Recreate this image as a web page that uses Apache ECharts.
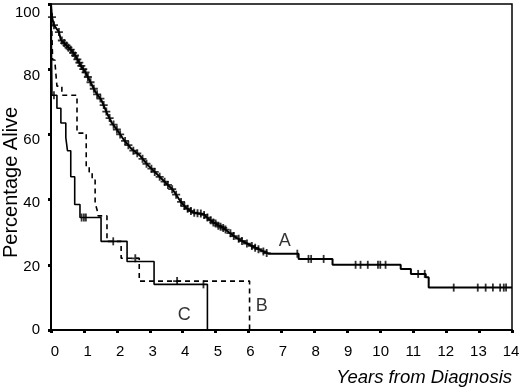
<!DOCTYPE html>
<html>
<head>
<meta charset="utf-8">
<script src="https://cdn.jsdelivr.net/npm/echarts@6/dist/echarts.min.js"></script>
<style>
html,body{margin:0;padding:0;background:#fff;}
#chart{width:520px;height:388px;}
</style>
</head>
<body>
<div id="chart"></div>
<script>
// Tick labels
var xTicks = [0,1,2,3,4,5,6,7,8,9,10,11,12,13,14];
var yTicks = [0,20,40,60,80,100];

// Curve A (years, % alive)
var aTime = [0,0.03,0.09,0.24,0.3,0.45,0.6,0.75,0.91,1.05,1.2,1.35,1.53,1.7,1.85,2.0,2.2,2.45,2.7,2.95,3.2,3.45,3.7,3.93,4.1,4.32,4.63,4.8,4.93,5.23,5.4,5.6,5.8,6.06,6.3,6.6,7.52,7.52,8.55,8.55,10.62,10.62,10.93,10.93,11.38,11.38,11.47,11.47,14];
var aSurv = [100,96,93.5,91.4,89,87.5,86,84,81,79,76,73,70.5,66.5,63.5,61.5,58.5,55.5,53.5,50.5,48,45.5,43,39.5,37.5,36,35.5,34,33,31.3,30,28.5,27.3,26,24.8,23.4,23.4,21.8,21.8,20,20,18.7,18.7,17.2,17.2,16.2,16.2,13,13];
var aCensorDense = [[0.03,96],[0.09,93.5],[0.24,91.4],[0.33,88.8],[0.4,88],[0.47,87.3],[0.53,86.6],[0.6,86],[0.67,85],[0.73,84.2],[0.8,83],[0.86,82],[0.92,81],[0.98,80],[1.05,79],[1.12,77.6],[1.2,76],[1.3,74],[1.4,72.3],[1.5,71],[1.6,69],[1.68,67],[1.78,65],[1.9,63],[2.0,61.5],[2.1,60],[2.25,58],[2.35,56.7],[2.5,55],[2.62,54.2],[2.78,52.5],[2.9,51],[3.05,49.5],[3.15,48.5],[3.3,47],[3.45,45.5],[3.55,44.5],[3.68,43.2],[3.8,41.5],[3.95,39.3],[4.05,38],[4.15,37.2],[4.25,36.5],[4.35,36],[4.45,35.8],[4.55,35.7],[4.65,35.3],[4.75,34.5],[4.85,33.7],[4.93,33],[5.0,32.7],[5.08,32],[5.15,31.7],[5.23,31.3],[5.3,30.8],[5.45,29.7],[5.55,28.8],[5.7,28],[5.8,27.3],[5.95,26.5],[6.1,25.8],[6.2,25.2],[6.3,24.8],[6.45,24.1],[6.55,23.6]];
var aCensorTail = [[7.48,23.4],[7.82,21.8],[7.9,21.8],[8.28,21.8],[9.25,20],[9.4,20],[9.62,20],[9.93,20],[10.0,20],[10.16,20],[11.15,17.2],[11.35,17.2],[12.23,13],[12.96,13],[13.2,13],[13.42,13],[13.64,13],[13.75,13],[13.82,13]];

// Curve B (dashed)
var bTime = [0,0.05,0.05,0.12,0.12,0.18,0.18,0.33,0.33,0.79,0.79,1.07,1.07,1.16,1.16,1.25,1.25,1.34,1.34,1.4,1.4,1.43,1.43,1.7,1.7,2.13,2.13,2.68,2.68,6.03,6.03];
var bSurv = [100,100,82.8,82.8,82,82,74.8,74.8,72,72,60.4,60.4,50,50,48.5,48.5,46,46,39,39,36.8,36.8,35,35,27.2,27.2,22,22,15,15,0];
var bCensor = [[2.56,22],[3.83,15]];

// Curve C (solid)
var cTime = [0,0.03,0.03,0.18,0.18,0.3,0.3,0.45,0.45,0.5,0.5,0.6,0.6,0.72,0.72,0.88,0.88,1.52,1.52,2.31,2.31,3.13,3.13,4.75,4.75];
var cSurv = [100,100,72,72,68,68,63.5,63.5,59,59,55,55,47,47,38.5,38.5,34.5,34.5,27.2,27.2,21,21,14,14,0];
var cCensor = [[0.09,72],[0.93,34.5],[1.0,34.5],[1.06,34.5],[1.89,27.2],[4.63,14]];

var curveNames = ['A','B','C'];

function zip(t, s){ return t.map(function(v,i){ return [v, s[i]]; }); }

var plus = 'path://M3,0h1.8v8h-1.8zM0,3.1h7.8v1.8h-7.8z';
var FONT = '"Liberation Sans", Arial, sans-serif';

var chart = echarts.init(document.getElementById('chart'), null, {renderer:'canvas'});
var option = {
  animation: false,
  backgroundColor: '#fff',
  grid: {left: 51, right: 8, top: 4, bottom: 58, show: true, borderColor: '#000', borderWidth: 1.5, outerBoundsMode: 'none'},
  xAxis: [
    {type:'value', min:0, max:14, interval:1,
     axisLine:{show:true, onZero:false, lineStyle:{color:'#000', width:2}},
     axisTick:{show:true, length:3, lineStyle:{color:'#000', width:3}},
     axisLabel:{show:false}, splitLine:{show:false}},
    {type:'value', position:'bottom', min:-0.123, max:14.031,
     axisLine:{show:false}, axisTick:{show:false}, splitLine:{show:false},
     axisLabel:{show:true, customValues:xTicks, margin:14, color:'#000', fontSize:15, fontFamily:FONT}}
  ],
  yAxis: [
    {type:'value', min:0, max:100, interval:20,
     axisLine:{show:true, onZero:false, lineStyle:{color:'#000', width:2}},
     axisTick:{show:true, length:3, lineStyle:{color:'#000', width:3}},
     axisLabel:{show:false}, splitLine:{show:false}},
    {type:'value', position:'left', min:0, max:102.8,
     axisLine:{show:false}, axisTick:{show:false}, splitLine:{show:false},
     axisLabel:{show:true, customValues:yTicks, margin:11, color:'#000', fontSize:15, fontFamily:FONT}}
  ],
  graphic: [
    {type:'text', x: 512, y: 378, style:{text:'Years from Diagnosis', font:'italic 18.5px ' + FONT, fill:'#000', textAlign:'right', textVerticalAlign:'middle'}},
    {type:'text', x: 1, y: 258, rotation: Math.PI/2, style:{text:'Percentage Alive', font:'20px ' + FONT, fill:'#000', textAlign:'left', textVerticalAlign:'top'}}
  ],
  series: [
    {type:'line', name:'A', data: zip(aTime, aSurv), showSymbol:false, symbol:'none', lineStyle:{color:'#000', width:2}, z:3},
    {type:'scatter', data: aCensorDense, symbol: plus, symbolSize:[8,8], itemStyle:{color:'#000'}, z:4},
    {type:'scatter', data: aCensorTail, symbol:'rect', symbolSize:[1.8,8], itemStyle:{color:'#000'}, z:4},
    {type:'line', name:'B', data: zip(bTime, bSurv), showSymbol:false, symbol:'none', lineStyle:{color:'#000', width:1.6, type:[5,4]}, z:3},
    {type:'scatter', data: bCensor, symbol: plus, symbolSize:[8,8], itemStyle:{color:'#000'}, z:4},
    {type:'line', name:'C', data: zip(cTime, cSurv), showSymbol:false, symbol:'none', lineStyle:{color:'#000', width:1.6}, z:3},
    {type:'scatter', data: cCensor, symbol:'rect', symbolSize:[1.8,8], itemStyle:{color:'#000'}, z:4},
    {type:'scatter', symbol:'circle', symbolSize:1, silent:true, itemStyle:{color:'rgba(0,0,0,0)'},
     data: [[7.1,27.3],[6.4,7.5],[4.05,4.5]].map(function(p,i){ return {value:p, label:{formatter: curveNames[i]}}; }),
     label:{show:true, position:'inside', color:'#000', fontSize:18, fontFamily:FONT}, z:5}
  ]
};
chart.setOption(option);
</script>
</body>
</html>
